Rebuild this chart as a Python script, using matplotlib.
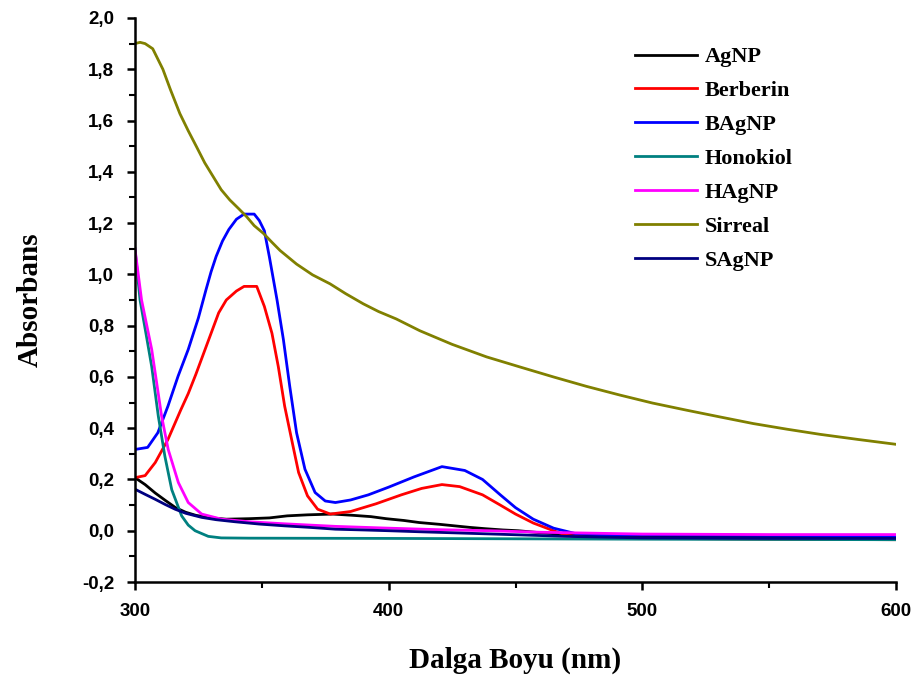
import matplotlib
matplotlib.use("Agg")
import matplotlib.pyplot as plt
from matplotlib.ticker import MultipleLocator, FuncFormatter

# UV-Vis spectra, wavelength (nm) vs absorbance
agnp_x = [300, 304, 308, 312, 316, 320, 324, 330, 336, 345, 353, 360, 368, 378, 386, 393, 399, 406, 412, 420, 425, 432, 438, 445, 451, 460, 470, 480, 500, 550, 600]
agnp_y = [0.207, 0.18, 0.147, 0.118, 0.09, 0.072, 0.06, 0.05, 0.045, 0.047, 0.05, 0.058, 0.062, 0.065, 0.06, 0.055, 0.047, 0.04, 0.032, 0.025, 0.02, 0.013, 0.008, 0.003, 0.0, -0.008, -0.015, -0.02, -0.022, -0.023, -0.025]

berberin_x = [300, 304, 308, 313, 318, 321, 324, 327, 330, 333, 336, 340, 343, 348, 351, 354, 356.5, 359, 362, 364.5, 368, 372, 377, 385, 395, 405, 413, 421, 428, 437, 444, 450, 457, 465, 470, 480, 550, 600]
berberin_y = [0.207, 0.215, 0.266, 0.356, 0.47, 0.535, 0.61, 0.69, 0.77, 0.85, 0.90, 0.935, 0.953, 0.953, 0.875, 0.77, 0.64, 0.486, 0.344, 0.227, 0.136, 0.084, 0.065, 0.075, 0.105, 0.14, 0.165, 0.18, 0.172, 0.14, 0.10, 0.065, 0.03, 0.0, -0.018, -0.028, -0.033, -0.035]

bagnp_x = [300, 305, 309, 313, 317, 321, 325, 328, 330, 332, 334.5, 337, 340, 343, 347, 349, 351, 353, 356, 358.5, 361, 363.7, 367, 371, 375, 379, 385, 392, 400, 410, 421, 430, 437, 444, 450, 457, 465, 474, 485, 550, 600]
bagnp_y = [0.317, 0.325, 0.382, 0.486, 0.603, 0.707, 0.83, 0.94, 1.01, 1.07, 1.13, 1.175, 1.215, 1.235, 1.235, 1.21, 1.17, 1.067, 0.90, 0.746, 0.564, 0.382, 0.24, 0.149, 0.116, 0.11, 0.12, 0.14, 0.17, 0.21, 0.25, 0.235, 0.20, 0.14, 0.09, 0.045, 0.01, -0.012, -0.016, -0.018, -0.02]

honokiol_x = [300, 302, 304.5, 306.6, 309.2, 311.8, 314.5, 318.4, 321, 323.7, 328.9, 334, 345, 400, 500, 600]
honokiol_y = [1.10, 0.90, 0.76, 0.64, 0.447, 0.29, 0.16, 0.058, 0.022, 0.0, -0.022, -0.028, -0.029, -0.03, -0.033, -0.035]

hagnp_x = [300, 302.6, 306.6, 310.5, 313.1, 317.1, 321, 326.3, 334.2, 345, 359, 379, 400, 420, 440, 460, 500, 550, 600]
hagnp_y = [1.10, 0.90, 0.707, 0.447, 0.317, 0.188, 0.11, 0.065, 0.045, 0.035, 0.027, 0.017, 0.01, 0.004, 0.0, -0.006, -0.013, -0.015, -0.015]

sirreal_x = [300, 302, 304, 307, 311, 314, 317.7, 321, 324.3, 327.5, 330.9, 334, 337.4, 341, 344, 347, 350.6, 354, 357.2, 363.7, 370, 376.9, 383, 390, 396, 403, 412.3, 425, 438.6, 452, 464.9, 478, 491.2, 504, 517.5, 531, 543.7, 557, 570, 585, 600]
sirreal_y = [1.90, 1.905, 1.90, 1.88, 1.80, 1.72, 1.627, 1.56, 1.497, 1.435, 1.38, 1.33, 1.29, 1.255, 1.225, 1.19, 1.16, 1.125, 1.093, 1.04, 0.998, 0.963, 0.925, 0.885, 0.855, 0.826, 0.78, 0.727, 0.678, 0.638, 0.60, 0.563, 0.529, 0.498, 0.47, 0.443, 0.418, 0.396, 0.376, 0.356, 0.337]

sagnp_x = [300, 304, 307.9, 312, 315.8, 320, 326.3, 332, 339.4, 349, 359, 369, 379, 390, 400, 412, 425, 438, 451, 470, 500, 550, 600]
sagnp_y = [0.162, 0.142, 0.123, 0.102, 0.084, 0.068, 0.052, 0.043, 0.035, 0.026, 0.019, 0.013, 0.006, 0.003, 0.0, -0.004, -0.008, -0.012, -0.016, -0.022, -0.028, -0.03, -0.03]

series = [
    ("AgNP", agnp_x, agnp_y, "#000000"),
    ("Berberin", berberin_x, berberin_y, "#ff0000"),
    ("BAgNP", bagnp_x, bagnp_y, "#0000ff"),
    ("Honokiol", honokiol_x, honokiol_y, "#008080"),
    ("HAgNP", hagnp_x, hagnp_y, "#ff00ff"),
    ("Sirreal", sirreal_x, sirreal_y, "#808000"),
    ("SAgNP", sagnp_x, sagnp_y, "#000080"),
]

fig = plt.figure(figsize=(9.2, 6.86), dpi=100)
ax = fig.add_axes([0.1467, 0.1516, 0.8273, 0.8222])

for name, x, y, c in series:
    ax.plot(x, y, color=c, lw=2.0, label=name)

ax.set_xlim(300, 600)
ax.set_ylim(-0.2, 2.0)
ax.xaxis.set_major_locator(MultipleLocator(100))
ax.xaxis.set_minor_locator(MultipleLocator(50))
ax.yaxis.set_major_locator(MultipleLocator(0.2))
ax.yaxis.set_minor_locator(MultipleLocator(0.1))
ax.yaxis.set_major_formatter(FuncFormatter(lambda v, p: ("%.1f" % v).replace(".", ",").replace("-0,0", "0,0")))

for side in ("top", "right"):
    ax.spines[side].set_visible(False)
for side in ("left", "bottom"):
    ax.spines[side].set_linewidth(1.8)

ax.tick_params(which="major", direction="out", length=6, width=1.8)
ax.tick_params(which="minor", direction="out", length=4, width=1.5)
ax.tick_params(axis="x", which="major", pad=9)
ax.tick_params(axis="y", which="major", pad=9)
for lab in ax.get_xticklabels() + ax.get_yticklabels():
    lab.set_fontfamily("Liberation Sans")
    lab.set_fontweight("bold")
    lab.set_fontsize(13.5)

ax.set_xlabel("Dalga Boyu (nm)", fontfamily="Liberation Serif", fontweight="bold", fontsize=21)
ax.set_ylabel("Absorbans", fontfamily="Liberation Serif", fontweight="bold", fontsize=21)
ax.xaxis.set_label_coords(0.5, -0.114)
ax.yaxis.set_label_coords(-0.12, 0.5)

leg = ax.legend(loc="upper left", bbox_to_anchor=(0.657, 0.949), frameon=False,
                handlelength=2.8, handletextpad=0.35, labelspacing=0.6,
                borderaxespad=0, borderpad=0,
                prop={"family": "Liberation Serif", "weight": "bold", "size": 16})

fig.savefig("out.png", dpi=100)
